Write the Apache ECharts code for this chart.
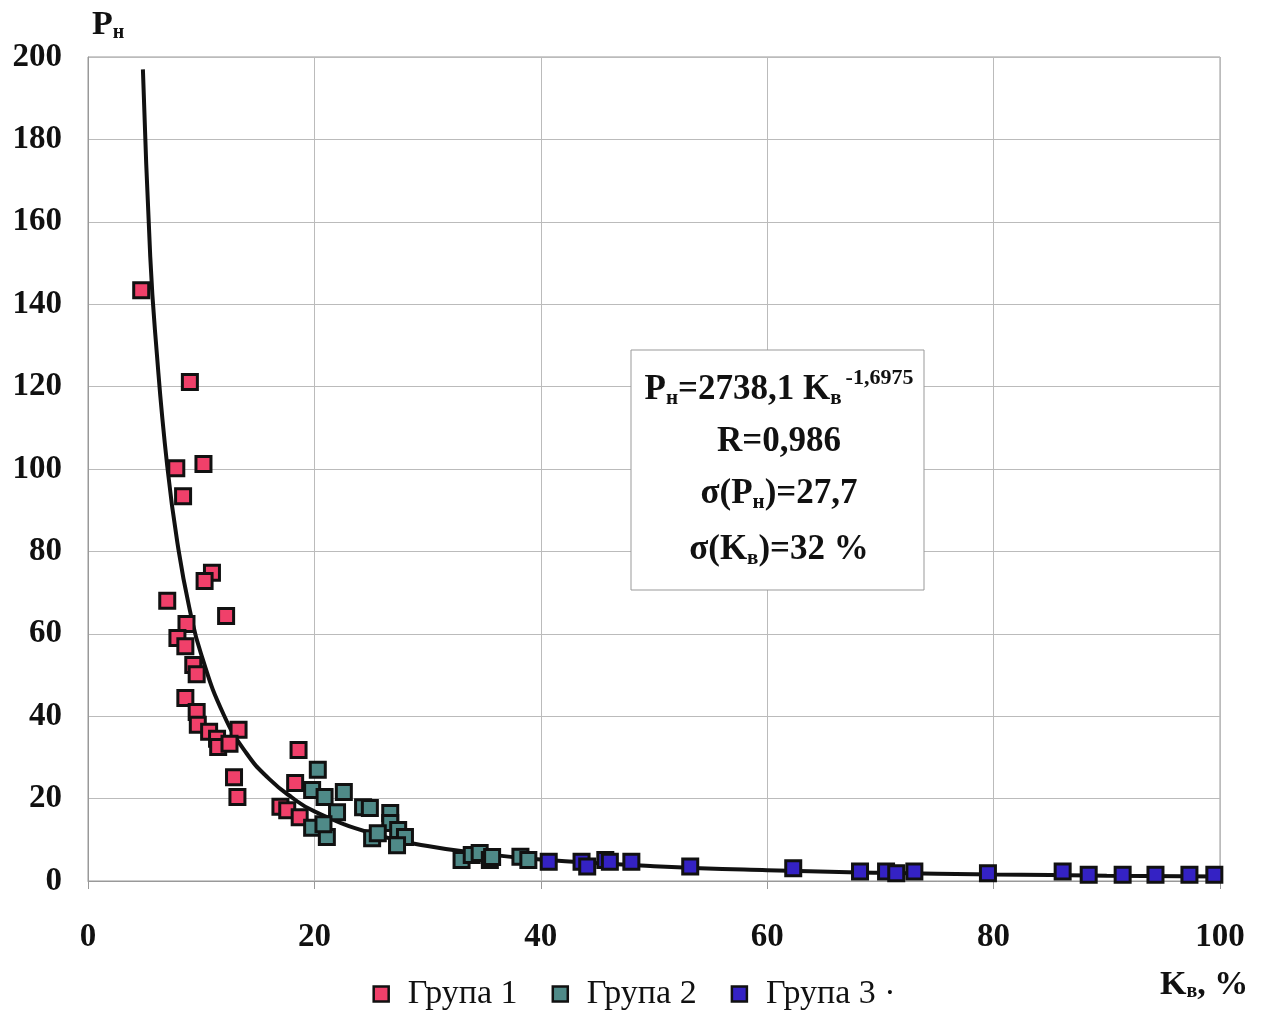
<!DOCTYPE html>
<html><head><meta charset="utf-8">
<script src="https://cdn.jsdelivr.net/npm/echarts@6/dist/echarts.min.js"></script>
<style>html,body{margin:0;padding:0;background:#fff}#c{width:1268px;height:1018px}</style>
</head><body><div id="c"></div>
<script>
// Group 1
const g1K = [4.7, 9.0, 7.8, 10.2, 8.4, 10.95, 10.3, 7.0, 12.2, 8.7, 7.9, 8.6, 9.3, 9.6, 8.6, 9.6, 9.7, 10.7, 13.3, 11.4, 11.5, 12.5, 12.9, 13.2, 17.0, 17.6, 18.6, 18.3, 18.7];
const g1P = [143.4, 121.1, 100.2, 101.2, 93.4, 74.8, 72.8, 68.0, 64.3, 62.4, 59.0, 57.0, 52.4, 50.2, 44.4, 41.0, 37.9, 36.2, 36.7, 34.5, 32.5, 33.3, 25.2, 20.4, 18.0, 17.2, 31.8, 23.8, 15.5];
// Group 2
const g2K = [20.3, 19.8, 20.9, 22.6, 22.0, 19.8, 21.1, 20.8, 24.3, 24.9, 26.7, 26.7, 27.4, 28.0, 25.1, 25.6, 27.3, 33.0, 33.9, 34.6, 35.5, 35.7, 38.2, 38.9];
const g2P = [27.0, 22.1, 20.4, 21.6, 16.7, 12.9, 10.7, 13.8, 17.9, 17.7, 16.5, 14.1, 12.4, 10.7, 10.4, 11.6, 8.7, 5.1, 6.3, 6.8, 5.1, 5.8, 5.9, 5.1];
// Group 3
const g3K = [40.7, 43.6, 44.1, 45.7, 46.1, 48.0, 53.2, 62.3, 68.2, 70.5, 71.4, 73.0, 79.5, 86.1, 88.4, 91.4, 94.3, 97.3, 99.5];
const g3P = [4.7, 4.7, 3.5, 5.1, 4.7, 4.7, 3.5, 3.1, 2.3, 2.3, 1.9, 2.3, 1.9, 2.3, 1.5, 1.5, 1.5, 1.5, 1.5];
// Fitted curve
const curveK = [4.85, 5.5, 6, 7, 8, 9, 10, 12, 14, 16, 18, 20, 25, 30, 35, 40, 50, 60, 70, 80, 90, 100];
const curveP = [197, 151.5, 130.8, 100.7, 80.3, 65.7, 55.0, 40.3, 31.0, 24.8, 20.3, 16.9, 11.6, 8.5, 6.6, 5.2, 3.6, 2.6, 2.0, 1.6, 1.3, 1.1];
// Axis ticks
const xTicks = [0, 20, 40, 60, 80, 100];
const yTicks = [0, 20, 40, 60, 80, 100, 120, 140, 160, 180, 200];
const seriesNames = ['Група 1', 'Група 2', 'Група 3 ·'];
const colors = ['#f0406a', '#4f8a88', '#3422c4'];

const zip = (a, b) => a.map((v, i) => [v, b[i]]);
const serif = 'Liberation Serif';
const chart = echarts.init(document.getElementById('c'));
const scatterStyle = (c) => ({ color: c, borderColor: '#111', borderWidth: 3, opacity: 1 });
chart.setOption({
  animation: false,
  grid: { left: 88, right: 48, top: 57, bottom: 137, show: true, borderColor: '#999', borderWidth: 1 },
  xAxis: {
    type: 'value', min: xTicks[0], max: xTicks[xTicks.length - 1], interval: 20,
    axisLine: { show: true, lineStyle: { color: '#999' } },
    axisTick: { show: true, length: 8, lineStyle: { color: '#999' } },
    splitLine: { show: true, lineStyle: { color: '#bbb' } },
    axisLabel: { margin: 40, fontFamily: serif, fontWeight: 'bold', fontSize: 33, color: '#111' }
  },
  yAxis: {
    type: 'value', min: yTicks[0], max: yTicks[yTicks.length - 1], interval: 20,
    axisLine: { show: true, lineStyle: { color: '#999' } },
    axisTick: { show: false },
    splitLine: { show: true, lineStyle: { color: '#bbb' } },
    axisLabel: { margin: 26, fontFamily: serif, fontWeight: 'bold', fontSize: 33, color: '#111' }
  },
  legend: {
    bottom: 2, left: 'center', itemGap: 34, itemWidth: 15, itemHeight: 15,
    data: seriesNames.map((n, i) => ({ name: n, icon: 'rect', itemStyle: { color: colors[i], borderColor: '#111', borderWidth: 2.5 } })),
    textStyle: { fontFamily: serif, fontSize: 34, color: '#111', padding: [0, 0, 0, 14] }
  },
  series: [
    { type: 'line', name: 'curve', data: zip(curveK, curveP), smooth: true, symbol: 'none',
      lineStyle: { color: '#111', width: 4 }, z: 1, silent: true },
    { type: 'scatter', name: seriesNames[0], data: zip(g1K, g1P), symbol: 'rect', symbolSize: 15, itemStyle: scatterStyle(colors[0]), z: 2 },
    { type: 'scatter', name: seriesNames[1], data: zip(g2K, g2P), symbol: 'rect', symbolSize: 15, itemStyle: scatterStyle(colors[1]), z: 2 },
    { type: 'scatter', name: seriesNames[2], data: zip(g3K, g3P), symbol: 'rect', symbolSize: 15, itemStyle: scatterStyle(colors[2]), z: 3 }
  ],
  graphic: [
    { type: 'text', left: 92, top: 8, style: {
      text: 'P{s|н}', fontFamily: serif, fontWeight: 'bold', fontSize: 34, fill: '#111',
      rich: { s: { fontFamily: serif, fontWeight: 'bold', fontSize: 20, fill: '#111', padding: [16, 0, 0, 0] } } } },
    { type: 'text', left: 1160, top: 968, style: {
      text: 'K{s|в}, %', fontFamily: serif, fontWeight: 'bold', fontSize: 34, fill: '#111',
      rich: { s: { fontFamily: serif, fontWeight: 'bold', fontSize: 20, fill: '#111', padding: [14, 0, 0, 0] } } } },
    { type: 'rect', shape: { x: 631, y: 350, width: 293, height: 240 }, style: { fill: '#fff', stroke: '#999', lineWidth: 1 }, z: 10 },
    { type: 'text', x: 779, y: 390, z: 11, style: {
      text: 'P{s|н}=2738,1 K{s|в}{p|-1,6975}', align: 'center', verticalAlign: 'middle',
      fontFamily: serif, fontWeight: 'bold', fontSize: 35, fill: '#111',
      rich: { s: { fontFamily: serif, fontWeight: 'bold', fontSize: 21, fill: '#111', padding: [18, 0, 0, 0] },
              p: { fontFamily: serif, fontWeight: 'bold', fontSize: 22, fill: '#111', padding: [0, 0, 24, 4] } } } },
    { type: 'text', x: 779, y: 442, z: 11, style: { text: 'R=0,986', align: 'center', verticalAlign: 'middle', fontFamily: serif, fontWeight: 'bold', fontSize: 35, fill: '#111' } },
    { type: 'text', x: 779, y: 494, z: 11, style: {
      text: 'σ(P{s|н})=27,7', align: 'center', verticalAlign: 'middle', fontFamily: serif, fontWeight: 'bold', fontSize: 35, fill: '#111',
      rich: { s: { fontFamily: serif, fontWeight: 'bold', fontSize: 21, fill: '#111', padding: [18, 0, 0, 0] } } } },
    { type: 'text', x: 779, y: 550, z: 11, style: {
      text: 'σ(K{s|в})=32 %', align: 'center', verticalAlign: 'middle', fontFamily: serif, fontWeight: 'bold', fontSize: 35, fill: '#111',
      rich: { s: { fontFamily: serif, fontWeight: 'bold', fontSize: 21, fill: '#111', padding: [18, 0, 0, 0] } } } }
  ]
});
</script></body></html>
